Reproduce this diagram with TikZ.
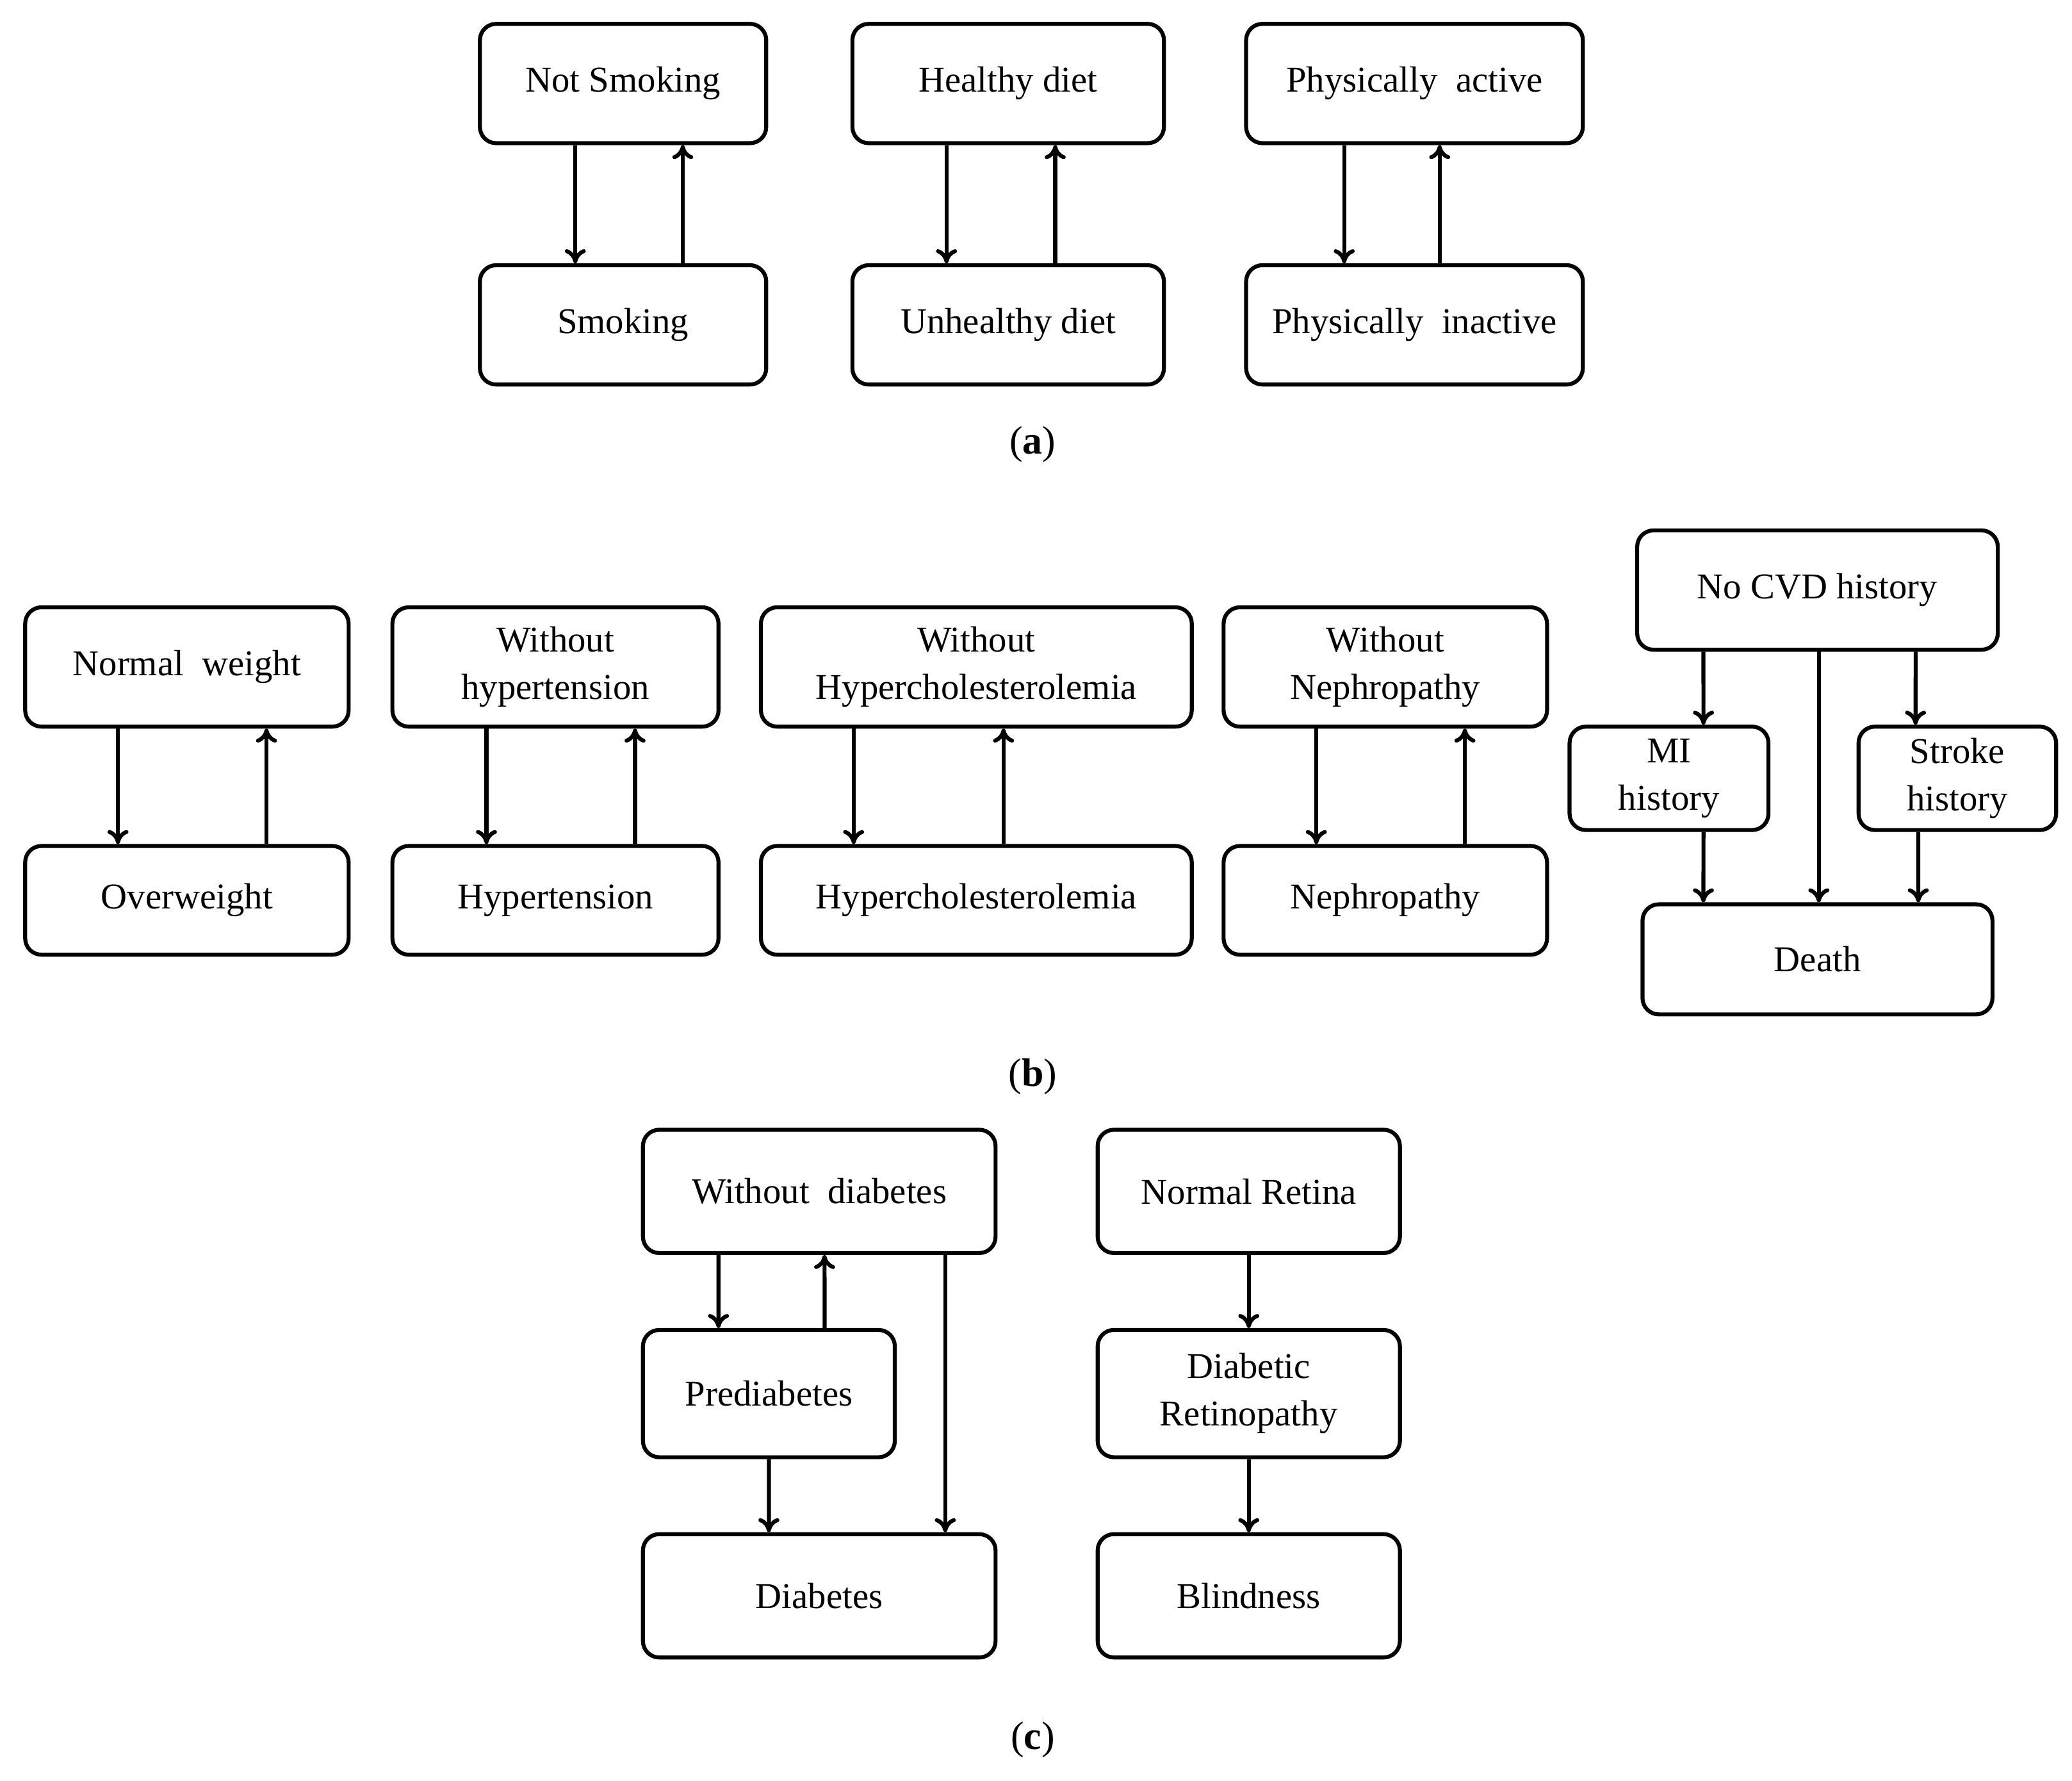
\documentclass[tikz,border=0pt]{standalone}
\usepackage{fontspec}
\setmainfont{Liberation Serif}
\usetikzlibrary{arrows.meta}
\begin{document}
\begin{tikzpicture}[x=0.01cm,y=-0.01cm,
 box/.style={draw,line width=0.85pt,rounded corners=3.5pt,align=center,inner sep=0pt,font=\fontsize{7.8pt}{10.2pt}\selectfont},
 ar/.style={line width=0.85pt,-{To[length=3pt,width=4.5pt]}},
 lab/.style={font=\fontsize{8.5pt}{10pt}\selectfont}]
\useasboundingbox (0,0) rectangle (1563,1343);
\newcommand{\bx}[6]{\node[box,minimum width=#4*0.01cm-#2*0.01cm,minimum height=#5*0.01cm-#3*0.01cm] (#1) at ({(#2+#4)/2},{(#3+#5)/2}) {#6};}
% (a)
\bx{ns}{362}{18}{578}{108}{Not Smoking}
\bx{sm}{362}{200}{578}{290}{Smoking}
\bx{hd}{643}{18}{878}{108}{Healthy diet}
\bx{ud}{643}{200}{878}{290}{Unhealthy diet}
\bx{pa}{940}{18}{1194}{108}{Physically\ \ active}
\bx{pi}{940}{200}{1194}{290}{Physically\ \ inactive}
\draw[ar] ([xshift=-0.36cm]ns.south) -- ([xshift=-0.36cm]sm.north);
\draw[ar] ([xshift=0.45cm]sm.north) -- ([xshift=0.45cm]ns.south);
\draw[ar] ([xshift=-0.465cm]hd.south) -- ([xshift=-0.465cm]ud.north);
\draw[ar] ([xshift=0.355cm]ud.north) -- ([xshift=0.355cm]hd.south);
\draw[ar] ([xshift=-0.53cm]pa.south) -- ([xshift=-0.53cm]pi.north);
\draw[ar] ([xshift=0.19cm]pi.north) -- ([xshift=0.19cm]pa.south);
\node[lab] (la) at (779,335) {(\textbf{a})};
% (b)
\bx{nw}{19}{458}{263}{548}{Normal\ \ weight}
\bx{ow}{19}{638}{263}{720}{Overweight}
\bx{wh}{296}{458}{542}{548}{Without\\hypertension}
\bx{hy}{296}{638}{542}{720}{Hypertension}
\bx{wc}{574}{458}{899}{548}{Without\\Hypercholesterolemia}
\bx{hc}{574}{638}{899}{720}{Hypercholesterolemia}
\bx{wn}{923}{458}{1167}{548}{Without\\Nephropathy}
\bx{ne}{923}{638}{1167}{720}{Nephropathy}
\draw[ar] ([xshift=-0.52cm]nw.south) -- ([xshift=-0.52cm]ow.north);
\draw[ar] ([xshift=0.60cm]ow.north) -- ([xshift=0.60cm]nw.south);
\draw[ar] ([xshift=-0.52cm]wh.south) -- ([xshift=-0.52cm]hy.north);
\draw[ar] ([xshift=0.60cm]hy.north) -- ([xshift=0.60cm]wh.south);
\draw[ar] ([xshift=-0.925cm]wc.south) -- ([xshift=-0.925cm]hc.north);
\draw[ar] ([xshift=0.205cm]hc.north) -- ([xshift=0.205cm]wc.south);
\draw[ar] ([xshift=-0.52cm]wn.south) -- ([xshift=-0.52cm]ne.north);
\draw[ar] ([xshift=0.60cm]ne.north) -- ([xshift=0.60cm]wn.south);
\bx{cvd}{1235}{400}{1507}{490}{No CVD history}
\bx{mi}{1184}{548}{1334}{626}{MI\\history}
\bx{st}{1402}{548}{1551}{626}{Stroke\\history}
\bx{de}{1239}{682}{1503}{765}{Death}
\draw[ar] ([xshift=-0.86cm]cvd.south) -- ([xshift=0.26cm]mi.north);
\draw[ar] ([xshift=0.74cm]cvd.south) -- ([xshift=-0.315cm]st.north);
\draw[ar] ([xshift=0.01cm]cvd.south) -- ([xshift=0.01cm]de.north);
\draw[ar] ([xshift=0.26cm]mi.south) -- ([xshift=-0.86cm]de.north);
\draw[ar] ([xshift=-0.295cm]st.south) -- ([xshift=0.76cm]de.north);
\node[lab] (lb) at (779,812) {(\textbf{b})};
% (c)
\bx{wd}{485}{852}{751}{945}{Without\ \ diabetes}
\bx{pd}{485}{1003}{675}{1099}{Prediabetes}
\bx{di}{485}{1157}{751}{1250}{Diabetes}
\draw[ar] ([xshift=-0.76cm]wd.south) -- ([xshift=-0.38cm]pd.north);
\draw[ar] ([xshift=0.42cm]pd.north) -- ([xshift=0.04cm]wd.south);
\draw[ar] ([xshift=0.0cm]pd.south) -- ([xshift=-0.38cm]di.north);
\draw[ar] ([xshift=0.95cm]wd.south) -- ([xshift=0.95cm]di.north);
\bx{nr}{828}{852}{1056}{945}{Normal Retina}
\bx{dr}{828}{1003}{1056}{1099}{Diabetic\\Retinopathy}
\bx{bl}{828}{1157}{1056}{1250}{Blindness}
\draw[ar] (nr) -- (dr);
\draw[ar] (dr) -- (bl);
\node[lab] (lc) at (779,1312) {(\textbf{c})};
\end{tikzpicture}
\end{document}
